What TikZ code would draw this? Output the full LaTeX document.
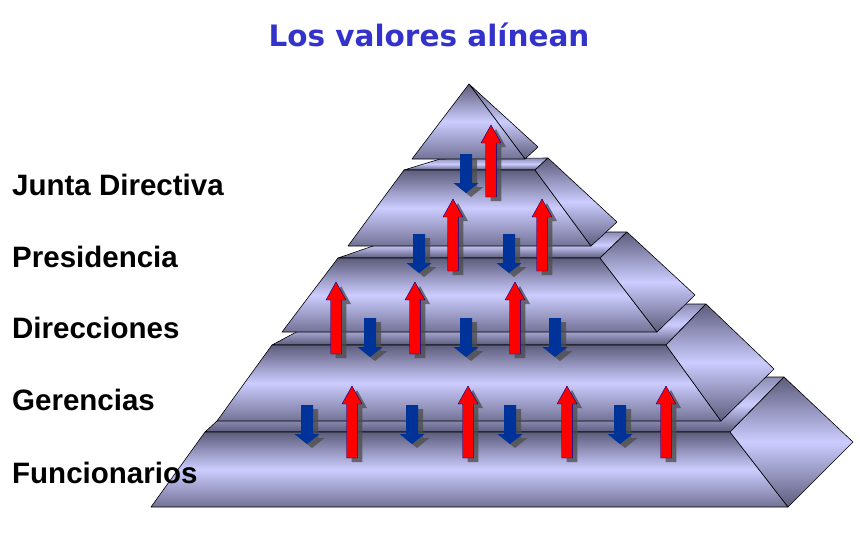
\documentclass[tikz,border=0pt]{standalone}
\usepackage{fontspec}
\setmainfont{Liberation Sans}
\newfontfamily\titlefont{DejaVu Sans}
\definecolor{pyrlight}{RGB}{204,204,255}
\definecolor{pyrmid}{RGB}{140,140,180}
\definecolor{pyrdark}{RGB}{92,92,124}
\definecolor{valred}{RGB}{255,0,0}
\definecolor{valblue}{RGB}{0,51,153}
\definecolor{titleblue}{RGB}{51,51,204}
\begin{document}
\begin{tikzpicture}[x=1pt,y=-1pt,line join=round,
    face/.style={draw=black,line width=.6pt,top color=pyrdark,bottom color=pyrdark,middle color=pyrlight},
    front/.style={draw=black,line width=.6pt,top color=pyrdark,bottom color=pyrdark!80!pyrlight,middle color=pyrlight},
    topface/.style={draw=black,line width=.6pt,top color=pyrmid,bottom color=pyrdark,middle color=pyrlight},
    upval/.style={draw=blue!60!black,line width=.4pt,fill=valred},
    downval/.style={fill=valblue},
    valshadow/.style={fill=black!70,opacity=.75},
    lab/.style={font=\fontsize{29.5}{35}\selectfont\bfseries,inner sep=0pt,anchor=base west}]
    \useasboundingbox (0,0) rectangle (860,541);
    \node[font=\titlefont\fontsize{29.5}{35}\selectfont\bfseries,text=titleblue,inner sep=0pt,anchor=base] (titulo) at (429,46) {Los valores alínean};
    \draw[topface] (205,432)--(265,377)--(784,377)--(730,432)--cycle;
    \draw[front] (151,507)--(788,507)--(730,432)--(205,432)--cycle;
    \draw[face] (730,432)--(784,377)--(853,442)--(788,507)--cycle;
    \draw[topface] (272,345)--(349,304)--(706,304)--(666,345)--cycle;
    \draw[front] (217,421)--(721,421)--(666,345)--(272,345)--cycle;
    \draw[face] (666,345)--(706,304)--(774,369)--(721,421)--cycle;
    \draw[topface] (338,258)--(414,232)--(627,232)--(600,258)--cycle;
    \draw[front] (282,332)--(657,332)--(600,258)--(338,258)--cycle;
    \draw[face] (600,258)--(627,232)--(695,295)--(657,332)--cycle;
    \draw[topface] (404,170)--(440,159)--(548,158)--(535,170)--cycle;
    \draw[front] (348,246)--(591,246)--(535,170)--(404,170)--cycle;
    \draw[face] (535,170)--(548,158)--(617,222)--(591,246)--cycle;
    \draw[face] (469,84)--(538,147)--(525,159)--cycle;
    \draw[front] (412,159)--(525,159)--(469,84)--cycle;
    \foreach\cx/\ty in{307/405,412/405,510/405,620/405,370/318,466/318,555/318,419/234,509/234,466/154}{
        \fill[valshadow,shift={(5,4)}] (\cx-6,\ty)--(\cx+6,\ty)--(\cx+6,\ty+29)--(\cx+12.5,\ty+29)--(\cx,\ty+39)--(\cx-12.5,\ty+29)--(\cx-6,\ty+29)--cycle;
        \fill[downval] (\cx-6,\ty)--(\cx+6,\ty)--(\cx+6,\ty+29)--(\cx+12.5,\ty+29)--(\cx,\ty+39)--(\cx-12.5,\ty+29)--(\cx-6,\ty+29)--cycle;
    }
    \foreach\cx/\ty in{352/386,468/386,567/386,666/386,336/282,415/282,515/282,453/199,542/199,491/125}{
        \fill[valshadow,shift={(5,4)}] (\cx,\ty)--(\cx+10,\ty+18)--(\cx+5.3,\ty+18)--(\cx+5.3,\ty+72)--(\cx-5.3,\ty+72)--(\cx-5.3,\ty+18)--(\cx-10,\ty+18)--cycle;
        \draw[upval] (\cx,\ty)--(\cx+10,\ty+18)--(\cx+5.3,\ty+18)--(\cx+5.3,\ty+72)--(\cx-5.3,\ty+72)--(\cx-5.3,\ty+18)--(\cx-10,\ty+18)--cycle;
    }
    \node[lab] (junta) at (12,195) {Junta Directiva};
    \node[lab] (presidencia) at (12,267) {Presidencia};
    \node[lab] (direcciones) at (12,338) {Direcciones};
    \node[lab] (gerencias) at (12,410) {Gerencias};
    \node[lab] (funcionarios) at (12,483) {Funcionarios};
\end{tikzpicture}
\end{document}
